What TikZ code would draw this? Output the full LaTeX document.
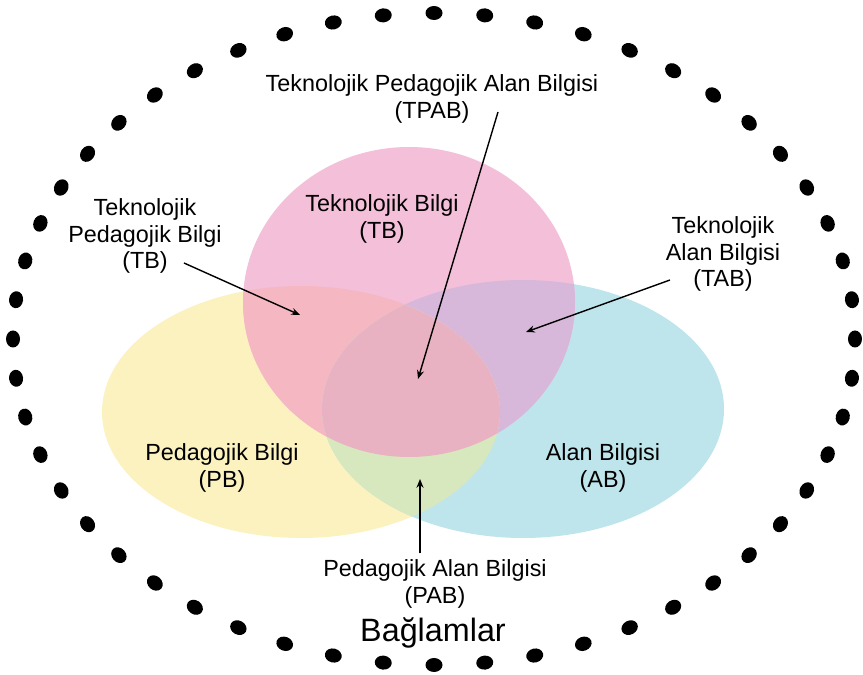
\documentclass[tikz,border=0pt]{standalone}
\usepackage{fontspec}
\setmainfont{Liberation Sans}
\usetikzlibrary{arrows.meta}

\definecolor{tkpink}{RGB}{243,191,217}
\definecolor{tkyellow}{RGB}{251,242,191}
\definecolor{tkblue}{RGB}{190,228,236}
\definecolor{tkpinkyellow}{RGB}{245,184,195}
\definecolor{tkpinkblue}{RGB}{215,184,219}
\definecolor{tkyellowblue}{RGB}{215,232,190}
\definecolor{tkall}{RGB}{233,178,195}

\tikzset{
  venntext/.style={align=center, font=\fontsize{13.3}{15.3}\selectfont},
  pointer/.style={-{Stealth[length=5pt,width=4pt]}, line width=0.8pt}
}

\begin{document}
\begin{tikzpicture}[x=0.02cm, y=-0.02cm]
  \useasboundingbox (0,0) rectangle (863,675); % Fix the page size

  % the dotted ring of contexts
  \foreach \i [evaluate=\i as \t using 90+(360/52)*\i] in {0,...,51}
    \fill[shift={({434+421*cos(\t)},{339+326*sin(\t)})}, rotate=-\t-90] (0,0) ellipse [x radius=8.5, y radius=7];

  \fill[tkyellow] (301,412) ellipse [x radius=199, y radius=126]; % Pedagojik Bilgi
  \fill[tkblue] (523,409) ellipse [x radius=201, y radius=129]; % Alan Bilgisi
  \fill[tkpink] (409,302) ellipse [x radius=166, y radius=155]; % Teknolojik Bilgi
  \begin{scope} % pink and yellow
    \clip (409,302) ellipse [x radius=166, y radius=155];
    \fill[tkpinkyellow] (301,412) ellipse [x radius=199, y radius=126];
  \end{scope}
  \begin{scope} % pink and blue
    \clip (409,302) ellipse [x radius=166, y radius=155];
    \fill[tkpinkblue] (523,409) ellipse [x radius=201, y radius=129];
  \end{scope}
  \begin{scope} % yellow and blue
    \clip (301,412) ellipse [x radius=199, y radius=126];
    \fill[tkyellowblue] (523,409) ellipse [x radius=201, y radius=129];
  \end{scope}
  \begin{scope} % all three
    \clip (409,302) ellipse [x radius=166, y radius=155];
    \clip (301,412) ellipse [x radius=199, y radius=126];
    \fill[tkall] (523,409) ellipse [x radius=201, y radius=129];
  \end{scope}

  \node[venntext] (tpab) at (432,99) {Teknolojik Pedagojik Alan Bilgisi\\(TPAB)}; % Top label
  \node[venntext] (tb) at (382,219) {Teknolojik Bilgi\\(TB)}; % Pink circle
  \node[venntext] (tpb) at (145,236) {Teknolojik\\Pedagojik Bilgi\\(TB)}; % Left label
  \node[venntext] (tab) at (723,254) {Teknolojik\\Alan Bilgisi\\(TAB)}; % Right label
  \node[venntext] (pb) at (222,468) {Pedagojik Bilgi\\(PB)}; % Yellow circle
  \node[venntext] (ab) at (603,468) {Alan Bilgisi\\(AB)}; % Blue circle
  \node[venntext] (pab) at (435,584) {Pedagojik Alan Bilgisi\\(PAB)}; % Bottom label
  \node[font=\fontsize{18.4}{22}\selectfont] (ctx) at (433,633) {Bağlamlar}; % Contexts

  \coordinate (tpabtail) at (498,112); % arrow ends
  \coordinate (tpabtip) at (418,379);
  \coordinate (tpbtail) at (184,263);
  \coordinate (tpbtip) at (300,315);
  \coordinate (tabtail) at (670,280);
  \coordinate (tabtip) at (526,332);
  \coordinate (pabtip) at (420,479);

  \draw[pointer] (tpabtail) -- (tpabtip); % to the middle
  \draw[pointer] (tpbtail) -- (tpbtip); % to pink and yellow
  \draw[pointer] (tabtail) -- (tabtip); % to pink and blue
  \draw[pointer] (pab.north -| pabtip) -- (pabtip); % to yellow and blue
\end{tikzpicture}
\end{document}
